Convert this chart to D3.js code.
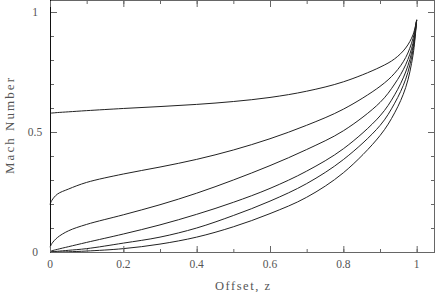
<!DOCTYPE html>
<html>
<head>
<meta charset="utf-8">
<script src="https://cdn.jsdelivr.net/npm/d3@7"></script>
<style>
  body { margin: 0; background: #fff; }
  svg { display: block; }
</style>
</head>
<body>
<div class="chart"></div>
<script>
const zVals = [0, 0.005, 0.02, 0.05, 0.1, 0.2, 0.3, 0.4, 0.5, 0.6, 0.7, 0.8, 0.9, 0.94, 0.97, 0.99, 1]

// Mach number, one array per curve (top to bottom)
const mach1 = [0.579, 0.579, 0.581, 0.584, 0.589, 0.598, 0.606, 0.615, 0.627, 0.644, 0.670, 0.709, 0.77, 0.805, 0.85, 0.905, 0.967]
const mach2 = [0.198, 0.215, 0.241, 0.262, 0.29, 0.325, 0.354, 0.386, 0.425, 0.472, 0.528, 0.595, 0.69, 0.745, 0.81, 0.89, 0.967]
const mach3 = [0.02, 0.035, 0.06, 0.088, 0.115, 0.155, 0.197, 0.245, 0.30, 0.36, 0.427, 0.505, 0.623, 0.70, 0.78, 0.87, 0.967]
const mach4 = [0.002, 0.005, 0.011, 0.022, 0.04, 0.075, 0.113, 0.157, 0.207, 0.265, 0.337, 0.43, 0.567, 0.655, 0.75, 0.855, 0.967]
const mach5 = [0, 0.001, 0.003, 0.007, 0.014, 0.037, 0.062, 0.10, 0.152, 0.212, 0.285, 0.385, 0.527, 0.62, 0.72, 0.84, 0.967]
const mach6 = [0, 0, 0, 0.001, 0.004, 0.014, 0.033, 0.062, 0.105, 0.16, 0.228, 0.33, 0.485, 0.58, 0.685, 0.82, 0.967]

const xTicks = [0, 0.2, 0.4, 0.6, 0.8, 1]
const yTicks = [0, 0.5, 1]

let width = 436
let height = 292
let margin = {top: 0, right: 1, bottom: 40, left: 50}

let svg = d3.select(".chart")
    .append("svg")
    .attr("width", width)
    .attr("height", height)

let x = d3.scaleLinear().domain([0, 1.05]).range([margin.left, width - margin.right])
let y = d3.scaleLinear().domain([0, 1.05]).range([height - margin.bottom, margin.top])

let frameColor = "#666"
let textColor = "#555"
let font = "'Liberation Serif', serif"

// curves
let line = d3.line()
    .x((d, i) => x(zVals[i]))
    .y(d => y(d))
    .curve(d3.curveCatmullRom.alpha(0.5))

svg.selectAll("path.curve")
    .data([mach1, mach2, mach3, mach4, mach5, mach6])
    .enter()
    .append("path")
    .attr("class", "curve")
    .attr("d", line)
    .attr("fill", "none")
    .attr("stroke", "#222")
    .attr("stroke-width", 1)

// frame with inward ticks on all four sides
let x0 = x.range()[0], x1 = x.range()[1]
let y0 = y.range()[0], y1 = y.range()[1]

svg.append("rect")
    .attr("x", x0 + 0.5)
    .attr("y", y1 + 0.5)
    .attr("width", x1 - x0 - 1)
    .attr("height", y0 - y1)
    .attr("fill", "none")
    .attr("stroke", frameColor)
    .attr("stroke-width", 1)

// left side is drawn darker in the reference
svg.append("line")
    .attr("x1", x0 + 0.5).attr("x2", x0 + 0.5)
    .attr("y1", y1).attr("y2", y0 + 0.5)
    .attr("stroke", "#111")

let axB = d3.axisBottom(x).tickValues(d3.range(0, 1.05, 0.1)).tickSize(-3).tickFormat("")
let axT = d3.axisTop(x).tickValues(d3.range(0, 1.05, 0.1)).tickSize(-3).tickFormat("")
let axL = d3.axisLeft(y).tickValues(d3.range(0, 1.05, 0.1)).tickSize(-3).tickFormat("")
let axR = d3.axisRight(y).tickValues(d3.range(0, 1.05, 0.1)).tickSize(-3).tickFormat("")

let majB = d3.axisBottom(x).tickValues(xTicks).tickSize(-6).tickFormat("")
let majT = d3.axisTop(x).tickValues(xTicks).tickSize(-6).tickFormat("")
let majL = d3.axisLeft(y).tickValues(yTicks).tickSize(-6).tickFormat("")
let majR = d3.axisRight(y).tickValues(yTicks).tickSize(-6).tickFormat("")

let axes = [
    [axB, `translate(0,${y0})`], [majB, `translate(0,${y0})`],
    [axT, `translate(0,${y1 + 1})`], [majT, `translate(0,${y1 + 1})`],
    [axL, `translate(${x0 + 1},0)`], [majL, `translate(${x0 + 1},0)`],
    [axR, `translate(${x1 - 1},0)`], [majR, `translate(${x1 - 1},0)`]
]
axes.forEach(a => {
    let g = svg.append("g").attr("transform", a[1]).call(a[0])
    g.select(".domain").remove()
    g.selectAll("line").attr("stroke", frameColor)
})

// tick labels
svg.selectAll("text.xlab")
    .data(xTicks)
    .enter()
    .append("text")
    .attr("x", d => x(d))
    .attr("y", y0 + 16)
    .text(d => d3.format("~g")(d))
    .style("text-anchor", "middle")
    .style("font-family", font)
    .style("font-size", "11.5px")
    .style("fill", textColor)

svg.selectAll("text.ylab")
    .data(yTicks)
    .enter()
    .append("text")
    .attr("x", 35)
    .attr("y", d => y(d) + 4)
    .text(d => d3.format("~g")(d))
    .style("text-anchor", "middle")
    .style("font-family", font)
    .style("font-size", "11.5px")
    .style("fill", textColor)

// axis titles
svg.append("text")
    .attr("x", (x0 + x1) / 2)
    .attr("y", 290)
    .attr("textLength", 55)
    .attr("lengthAdjust", "spacing")
    .text("Offset, z")
    .style("text-anchor", "middle")
    .style("font-family", font)
    .style("font-size", "12.5px")
    .style("fill", textColor)

svg.append("text")
    .attr("transform", `translate(14,${(y0 + y1) / 2}) rotate(-90)`)
    .attr("textLength", 96)
    .attr("lengthAdjust", "spacing")
    .text("Mach Number")
    .style("text-anchor", "middle")
    .style("font-family", font)
    .style("font-size", "13px")
    .style("fill", textColor)
</script>
</body>
</html>
